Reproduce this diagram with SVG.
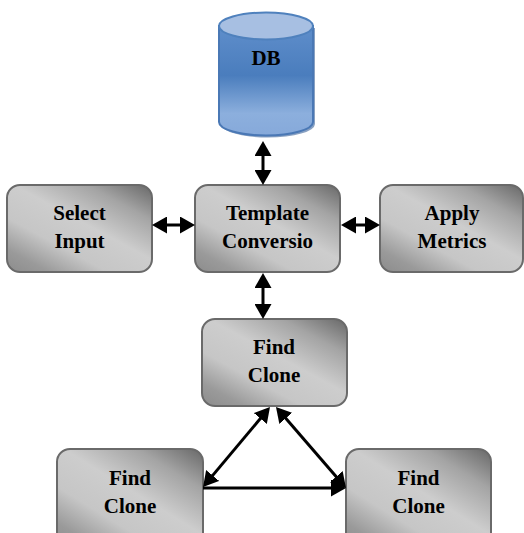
<svg xmlns="http://www.w3.org/2000/svg" width="524" height="533" viewBox="0 0 524 533">
  <style>
    .box { fill: url(#boxGrad); stroke: #6a6a6a; stroke-width: 2; }
    .lbl { font-family: "Liberation Serif", "Times New Roman", serif; font-weight: bold; font-size: 21px; fill: #000; text-anchor: middle; }
    .conn { stroke: #000; stroke-width: 3; fill: none; }
  </style>
  <defs>
    <linearGradient id="boxGrad" x1="0.95" y1="0" x2="0.05" y2="1">
      <stop offset="0" stop-color="#6e6e6e"/>
      <stop offset="0.2" stop-color="#a4a4a4"/>
      <stop offset="0.45" stop-color="#cdcdcd"/>
      <stop offset="0.68" stop-color="#c6c6c6"/>
      <stop offset="0.88" stop-color="#9a9a9a"/>
      <stop offset="1" stop-color="#8e8e8e"/>
    </linearGradient>
    <linearGradient id="dbBody" x1="0" y1="0" x2="0" y2="1">
      <stop offset="0" stop-color="#5f8ecb"/>
      <stop offset="0.45" stop-color="#4a7dbd"/>
      <stop offset="0.8" stop-color="#8cafdd"/>
      <stop offset="1" stop-color="#86a9da"/>
    </linearGradient>
    <marker id="ah" viewBox="0 0 15 17" refX="11" refY="8.5" markerWidth="15" markerHeight="17" markerUnits="userSpaceOnUse" orient="auto-start-reverse">
      <path d="M0,0 L15,8.5 L0,17 z" fill="#000"/>
    </marker>
  </defs>

  <g id="db">
    <path d="M221,28 L221,124 A47,13.5 0 0 0 315,124 L315,28 Z" fill="#3a639a" opacity="0.6"/>
    <path d="M219,26 L219,122 A47,13.5 0 0 0 313,122 L313,26 Z" fill="url(#dbBody)" stroke="#4a78b5" stroke-width="2"/>
    <ellipse cx="266" cy="26" rx="47" ry="13.5" fill="#a7bfe2" stroke="#4f81bd" stroke-width="2"/>
    <text class="lbl" x="266" y="65">DB</text>
  </g>

  <g id="select-input">
    <rect class="box" x="7" y="185" width="145" height="87" rx="13"/>
    <text class="lbl" x="79.5" y="220">Select</text>
    <text class="lbl" x="79.5" y="248">Input</text>
  </g>

  <g id="template-conversion">
    <rect class="box" x="195" y="185" width="145" height="87" rx="13"/>
    <text class="lbl" x="267.5" y="220">Template</text>
    <text class="lbl" x="267.5" y="248">Conversio</text>
  </g>

  <g id="apply-metrics">
    <rect class="box" x="380" y="185" width="143" height="87" rx="13"/>
    <text class="lbl" x="452" y="220">Apply</text>
    <text class="lbl" x="452" y="248">Metrics</text>
  </g>

  <g id="find-clone-top">
    <rect class="box" x="202" y="319" width="145" height="87" rx="13"/>
    <text class="lbl" x="274" y="354">Find</text>
    <text class="lbl" x="274" y="382">Clone</text>
  </g>

  <g id="find-clone-left">
    <rect class="box" x="57" y="449" width="146" height="100" rx="13"/>
    <text class="lbl" x="130" y="485">Find</text>
    <text class="lbl" x="130" y="513">Clone</text>
  </g>

  <g id="find-clone-right">
    <rect class="box" x="346" y="449" width="145" height="100" rx="13"/>
    <text class="lbl" x="418.5" y="485">Find</text>
    <text class="lbl" x="418.5" y="513">Clone</text>
  </g>

  <g id="connectors">
    <line class="conn" x1="263" y1="145" x2="263" y2="181" marker-start="url(#ah)" marker-end="url(#ah)"/>
    <line class="conn" x1="263" y1="277" x2="263" y2="315" marker-start="url(#ah)" marker-end="url(#ah)"/>
    <line class="conn" x1="156" y1="225" x2="191" y2="225" marker-start="url(#ah)" marker-end="url(#ah)"/>
    <line class="conn" x1="345" y1="225" x2="376" y2="225" marker-start="url(#ah)" marker-end="url(#ah)"/>
    <line class="conn" x1="267.4" y1="410.1" x2="205.6" y2="483.9" marker-start="url(#ah)" marker-end="url(#ah)"/>
    <line class="conn" x1="278.6" y1="410" x2="343.4" y2="485" marker-start="url(#ah)" marker-end="url(#ah)"/>
    <line class="conn" x1="203" y1="488" x2="342" y2="488" marker-end="url(#ah)"/>
  </g>
</svg>
